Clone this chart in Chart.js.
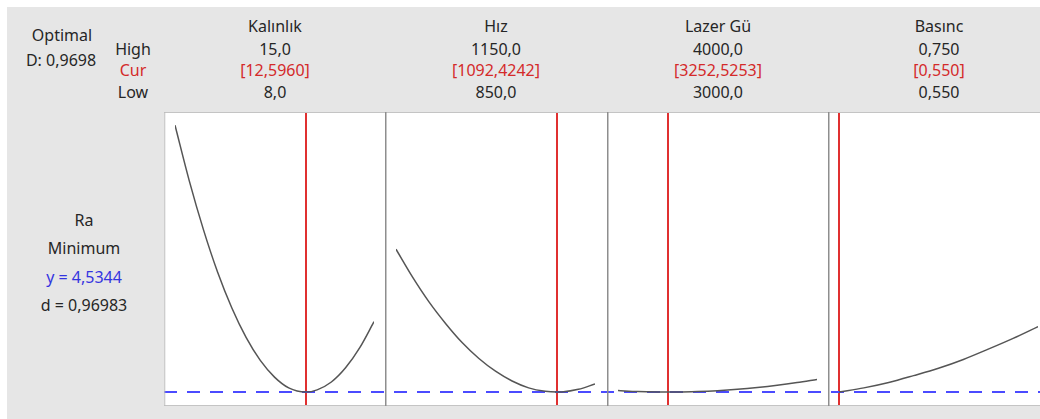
<!DOCTYPE html>
<html>
<head>
<meta charset="utf-8">
<script src="https://cdn.jsdelivr.net/npm/chart.js@4.4.1/dist/chart.umd.min.js"></script>
<style>
body { margin:0; background:#fff; width:1040px; height:419px; overflow:hidden; font-family:"Noto Sans", "Open Sans", sans-serif; }
#frame { position:absolute; left:7px; top:7px; width:1060px; height:430px; background:#e6e6e6; }
.lbl { position:absolute; font-size:16px; line-height:18px; color:#262626; white-space:nowrap; transform:translate(-50%,-50%); }
.red { color:#d42a2a; }
.blue { color:#3434e0; }
canvas.panel { position:absolute; top:112px; background:#fff; }
</style>
</head>
<body>
<div id="frame"></div>
<script>
// factor settings
var factors = ['Kalınlık', 'Hız', 'Lazer Gü', 'Basınc'];
var lowVals = [8, 850, 3000, 0.55];
var highVals = [15, 1150, 4000, 0.75];
var curVals = [12.596, 1092.4242, 3252.5253, 0.55];
var decimals = [1, 1, 1, 3];
var curDecimals = [4, 4, 4, 3];

// response
var respName = 'Ra';
var goal = 'Minimum';
var yTarget = 4.5344;
var dIndividual = '0,96983';
var dComposite = '0,9698';
var yMin = 4.25, yMax = 10.25;

// Ra along each factor (others held at current setting)
var kalinlikX = [8, 8.5, 9, 9.5, 10, 10.5, 11, 11.5, 12, 12.596, 13, 13.5, 14, 14.5, 15];
var kalinlikRa = [9.98, 8.85, 7.85, 6.98, 6.25, 5.65, 5.18, 4.84, 4.62, 4.5344, 4.58, 4.74, 5.03, 5.44, 5.97];
var hizX = [850, 875, 900, 925, 950, 975, 1000, 1025, 1050, 1075, 1092.4242, 1100, 1125, 1150];
var hizRa = [7.45, 6.88, 6.37, 5.93, 5.54, 5.22, 4.96, 4.76, 4.62, 4.55, 4.5344, 4.537, 4.59, 4.70];
var lazerX = [3000, 3100, 3200, 3252.5253, 3300, 3400, 3500, 3600, 3700, 3800, 3900, 4000];
var lazerRa = [4.564, 4.545, 4.536, 4.5344, 4.535, 4.545, 4.563, 4.590, 4.627, 4.673, 4.729, 4.793];
var basincX = [0.55, 0.575, 0.6, 0.625, 0.65, 0.675, 0.7, 0.725, 0.75];
var basincRa = [4.5344, 4.62, 4.73, 4.87, 5.02, 5.20, 5.41, 5.63, 5.87];

var seriesX = [kalinlikX, hizX, lazerX, basincX];
var seriesY = [kalinlikRa, hizRa, lazerRa, basincRa];

function fmt(v, d) { return v.toFixed(d).replace('.', ','); }

function label(text, x, y, cls) {
    var el = document.createElement('div');
    el.className = 'lbl' + (cls ? ' ' + cls : '');
    el.textContent = text;
    el.style.left = x + 'px';
    el.style.top = y + 'px';
    document.body.appendChild(el);
}

var plotLeft = 164, plotTop = 112, plotH = 294, panelW = 221.33;

// left side texts
label('Optimal', 62, 35);
label('D: ' + dComposite, 61, 60);
label('High', 133, 49);
label('Cur', 133, 70, 'red');
label('Low', 133, 92);
label(respName, 84, 220);
label(goal, 84, 248);
label('y = ' + fmt(yTarget, 4), 84, 277, 'blue');
label('d = ' + dIndividual, 84, 305);

// red line at the current setting, dashed line at the response value, frame lines
var panelDecor = {
    id: 'panelDecor',
    beforeDatasetsDraw: function(chart, args, opts) {
        var ctx = chart.ctx;
        var xs = chart.scales.x, ys = chart.scales.y;
        var w = chart.width, h = chart.height;
        ctx.save();
        var cx = Math.round(xs.getPixelForValue(opts.cur));
        ctx.strokeStyle = '#e03030';
        ctx.lineWidth = 2;
        ctx.beginPath();
        ctx.moveTo(cx, 0);
        ctx.lineTo(cx, h);
        ctx.stroke();
        var ty = Math.round(ys.getPixelForValue(yTarget));
        ctx.strokeStyle = '#4b4bff';
        ctx.lineWidth = 2;
        ctx.setLineDash([13, 10]);
        ctx.lineDashOffset = opts.dashOffset;
        ctx.beginPath();
        ctx.moveTo(0, ty);
        ctx.lineTo(w, ty);
        ctx.stroke();
        ctx.restore();
    },
    afterDraw: function(chart, args, opts) {
        var ctx = chart.ctx, w = chart.width, h = chart.height;
        ctx.save();
        ctx.strokeStyle = '#c4c4c4';
        ctx.lineWidth = 1;
        ctx.beginPath();
        ctx.moveTo(0, 0.5); ctx.lineTo(w, 0.5);
        ctx.moveTo(0, h - 0.5); ctx.lineTo(w, h - 0.5);
        ctx.stroke();
        ctx.strokeStyle = opts.first ? '#bdbdbd' : '#8e8e8e';
        ctx.lineWidth = opts.first ? 1 : 1.5;
        ctx.beginPath();
        ctx.moveTo(0.75, 0); ctx.lineTo(0.75, h);
        ctx.stroke();
        ctx.restore();
    }
};

for (var i = 0; i < factors.length; i++) {
    var left = plotLeft + Math.round(i * panelW);
    var cx = left + 111;

    label(factors[i], cx, 26);
    label(fmt(highVals[i], decimals[i]), cx, 49);
    label('[' + fmt(curVals[i], curDecimals[i]) + ']', cx, 70, 'red');
    label(fmt(lowVals[i], decimals[i]), cx, 92);

    var cv = document.createElement('canvas');
    cv.className = 'panel';
    cv.width = 222;
    cv.height = plotH;
    cv.style.left = left + 'px';
    document.body.appendChild(cv);

    var pts = [];
    for (var j = 0; j < seriesX[i].length; j++) {
        pts.push({x: seriesX[i][j], y: seriesY[i][j]});
    }

    new Chart(cv, {
        type: 'line',
        data: {
            datasets: [{
                data: pts,
                borderColor: '#555555',
                borderWidth: 1.5,
                pointRadius: 0,
                cubicInterpolationMode: 'monotone',
                fill: false
            }]
        },
        options: {
            responsive: false,
            animation: false,
            devicePixelRatio: 1,
            layout: { padding: { left: 11, right: 12, top: 0, bottom: 0 } },
            scales: {
                x: { type: 'linear', min: lowVals[i], max: highVals[i], display: false },
                y: { type: 'linear', min: yMin, max: yMax, display: false }
            },
            plugins: {
                legend: { display: false },
                tooltip: { enabled: false },
                panelDecor: { cur: curVals[i], dashOffset: left - plotLeft, first: i === 0 }
            }
        },
        plugins: [panelDecor]
    });
}
</script>
</body>
</html>
